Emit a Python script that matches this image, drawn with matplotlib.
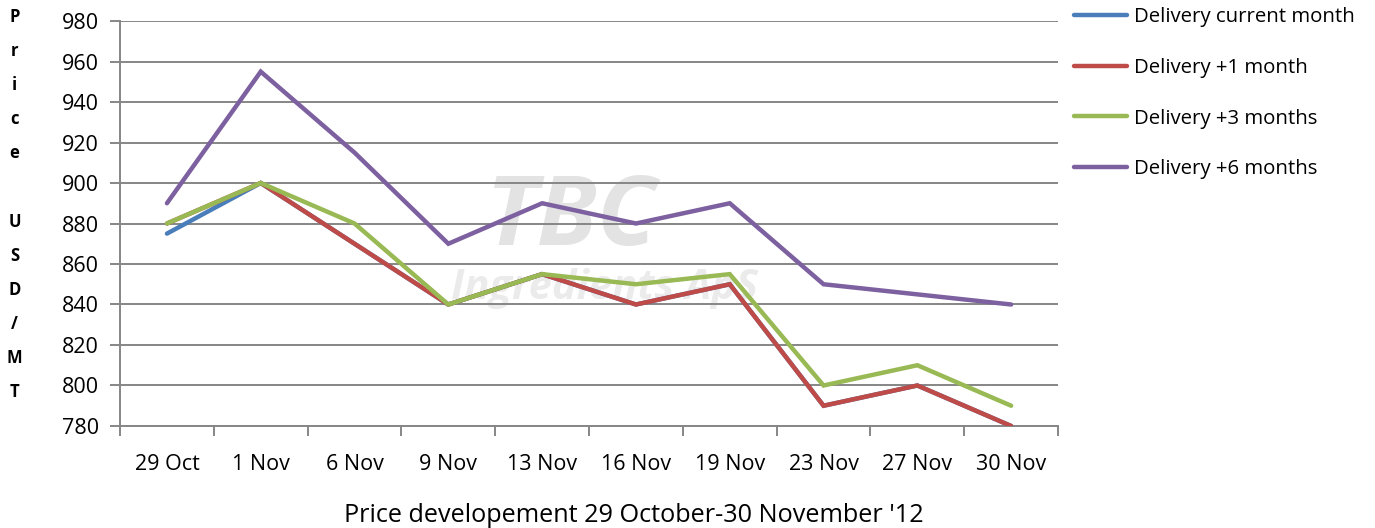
import matplotlib.pyplot as plt
from matplotlib.ticker import FixedLocator, MultipleLocator

plt.rcParams["font.family"] = ["Open Sans", "DejaVu Sans"]

dates = ["29 Oct", "1 Nov", "6 Nov", "9 Nov", "13 Nov", "16 Nov",
         "19 Nov", "23 Nov", "27 Nov", "30 Nov"]
current_month = [875, 900, 870, 840, 855, 840, 850, 790, 800, 780]
plus_1_month = [880, 900, 870, 840, 855, 840, 850, 790, 800, 780]
plus_3_months = [880, 900, 880, 840, 855, 850, 855, 800, 810, 790]
plus_6_months = [890, 955, 915, 870, 890, 880, 890, 850, 845, 840]

series = [
    ("Delivery current month", current_month, "#4A7EBB"),
    ("Delivery +1 month", plus_1_month, "#BE4B48"),
    ("Delivery +3 months", plus_3_months, "#98B954"),
    ("Delivery +6 months", plus_6_months, "#7D60A0"),
]

fig = plt.figure(figsize=(13.75, 5.28), dpi=100)
ax = fig.add_axes([0.0873, 0.1932, 0.6822, 0.767])

grid_col = "#868686"
x = list(range(len(dates)))

# faint logo watermark behind the lines
ax.text(0.48, 0.51, "TBC", transform=ax.transAxes, fontsize=70,
        fontweight="bold", style="italic", color="#e3e3e3",
        ha="center", va="center", zorder=0)
ax.text(0.517, 0.34, "Ingredients ApS", transform=ax.transAxes,
        fontsize=30, fontweight="bold", style="italic", color="#ebebeb",
        ha="center", va="center", zorder=0)

for label, vals, col in series:
    ax.plot(x, vals, color=col, linewidth=3.2, label=label,
            solid_capstyle="round", solid_joinstyle="miter", zorder=3)

ax.set_xlim(-0.5, len(dates) - 0.5)
ax.set_ylim(780, 980)
ax.yaxis.set_major_locator(MultipleLocator(20))
ax.grid(axis="y", color=grid_col, linewidth=1.4, zorder=1)
ax.set_axisbelow(True)

ax.set_xticks(x)
ax.set_xticklabels(dates)
ax.xaxis.set_minor_locator(FixedLocator([i - 0.5 for i in range(len(dates) + 1)]))
ax.tick_params(axis="x", which="major", length=0, pad=20, labelsize=15.5)
ax.tick_params(axis="x", which="minor", length=7, color=grid_col, width=1.4)
ax.tick_params(axis="y", length=7, color=grid_col, width=1.4, labelsize=15.5,
               pad=8)

for side in ("top", "right"):
    ax.spines[side].set_visible(False)
for side in ("left", "bottom"):
    ax.spines[side].set_color(grid_col)
    ax.spines[side].set_linewidth(1.4)

fig.text(0.461, 0.024, "Price developement 29 October-30 November '12",
         fontsize=18.2, ha="center", va="center")

fig.text(0.0105, 0.985, "\n".join("Price USD/MT".replace(" ", " ")),
         fontsize=12, fontweight="bold", ha="center", va="top",
         linespacing=2.15)

fig.legend(loc="upper left", bbox_to_anchor=(0.768, 1.021), frameon=False,
           fontsize=14.7, handlelength=2.6, handletextpad=0.3,
           labelspacing=1.5)

fig.savefig("out.png", dpi=100)
